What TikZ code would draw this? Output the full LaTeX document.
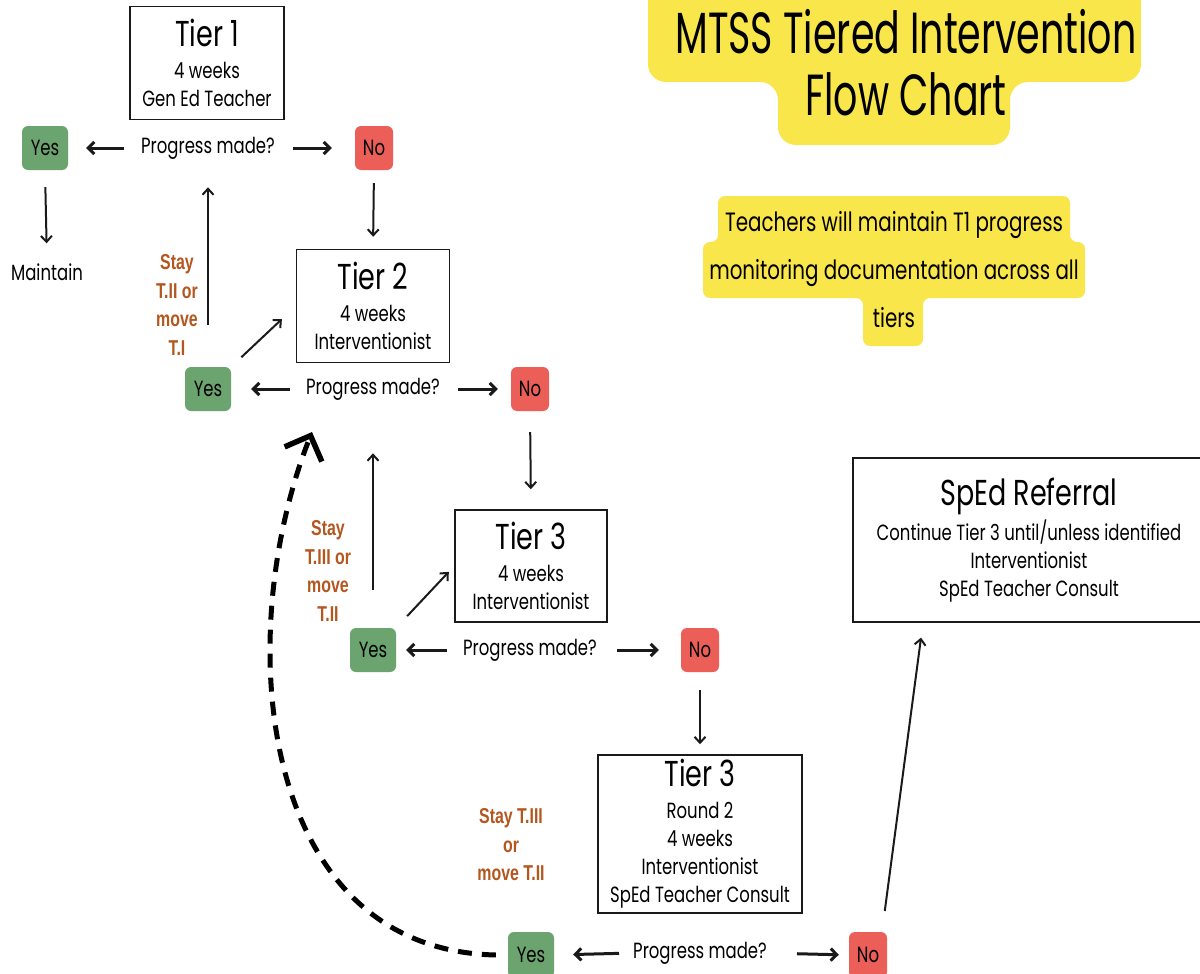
\documentclass[tikz,border=0pt]{standalone}
\usepackage{fontspec}
\setmainfont{Poppins}[FakeStretch=0.75]
\newfontfamily\headfont{Poppins}[FakeStretch=0.655]
\newfontfamily\notefont{Liberation Sans}[FakeStretch=0.74]
\usetikzlibrary{arrows.meta,positioning}
\definecolor{MtssGreen}{HTML}{6BA46E}
\definecolor{MtssRed}{HTML}{EC5F59}
\definecolor{MtssYellow}{HTML}{F9E64B}
\definecolor{MtssRust}{HTML}{B4571F}
\definecolor{MtssInk}{HTML}{1A1A1A}
\newcommand{\tiername}[1]{{\fontsize{36}{36}\selectfont #1}\\[4pt]}
\tikzset{
  tierbox/.style={draw=MtssInk,line width=1.5pt,align=center,inner sep=3pt,font=\fontsize{22}{28}\selectfont},
  yesbox/.style={fill=MtssGreen,rounded corners=6pt,minimum width=46pt,minimum height=44pt,inner sep=0pt,font=\fontsize{22}{22}\selectfont},
  nobox/.style={fill=MtssRed,rounded corners=6pt,minimum width=38pt,minimum height=44pt,inner sep=0pt,font=\fontsize{22}{22}\selectfont},
  askbox/.style={inner sep=0pt,font=\fontsize{22}{22}\selectfont},
  movenote/.style={align=center,text=MtssRust,font=\notefont\bfseries\fontsize{21.5}{28.5}\selectfont},
  flowarrow/.style={-{Straight Barb[length=6pt,width=12pt]},line width=3pt,draw=MtssInk},
  thinarrow/.style={-{Straight Barb[length=6pt,width=11pt]},line width=2pt,draw=MtssInk},
  backarrow/.style={-{Straight Barb[length=20pt,width=40pt,line width=5.5pt]},line width=5pt,dash pattern=on 14pt off 10pt,draw=black},
  yellowtag/.style={fill=MtssYellow}
}

\begin{document}
\begin{tikzpicture}[x=1pt,y=-1pt]
\useasboundingbox[fill=white] (0,0) rectangle (1200,974);

% Title and reminder tags
\path[yellowtag,rounded corners=18pt] (648,-30) -- (1141,-30) -- (1141,82) -- (1010,82) -- (1010,145)
  -- (778,145) -- (778,82) -- (648,82) -- cycle;
\node[align=center,font=\headfont\fontsize{58}{62}\selectfont] (title) at (906,63) {MTSS Tiered Intervention\\Flow Chart};
\path[yellowtag,rounded corners=7pt] (718,196) -- (1070,196) -- (1070,242) -- (1085,242) -- (1085,298)
  -- (923,298) -- (923,346) -- (863,346) -- (863,298) -- (703,298) -- (703,242) -- (718,242) -- cycle;
\node[align=center,font=\fontsize{26.5}{48}\selectfont] (memo) at (894,270) {Teachers will maintain T1 progress\\monitoring documentation across all\\tiers};

% Tier 1
\node[tierbox,minimum width=154pt,minimum height=113pt] (t1) at (207,63) {\tiername{Tier 1}4 weeks\\Gen Ed Teacher};
\node[yesbox] (y1) at (45,148) {Yes};
\node[askbox] (q1) at (208,148) {Progress made?};
\node[nobox] (n1) at (374,148) {No};
\node[askbox] (keep) at (47,272) {Maintain};
\draw[flowarrow,shorten <=17pt,shorten >=18pt] (q1.west) -- (y1.east);
\draw[flowarrow,shorten <=18pt,shorten >=23pt] (q1.east) -- (n1.west);
\draw[thinarrow,shorten <=17pt,shorten >=20pt] (y1.south) -- (keep.north);

% Tier 2
\node[tierbox,minimum width=153pt,minimum height=113pt] (t2) at (373,306) {\tiername{Tier 2}4 weeks\\Interventionist};
\node[yesbox] (y2) at (208,389) {Yes};
\node[askbox] (q2) at (373,389) {Progress made?};
\node[nobox] (n2) at (530,389) {No};
\draw[thinarrow,shorten <=13pt,shorten >=12pt] (n1.south) -- (t2.north);
\draw[flowarrow,shorten <=16pt,shorten >=20pt] (q2.west) -- (y2.east);
\draw[flowarrow,shorten <=18pt,shorten >=13pt] (q2.east) -- (n2.west);
\draw[thinarrow,shorten <=42pt,shorten >=28pt] (y2.north) -- (q1.south);
\draw[thinarrow,shorten <=14pt,shorten >=19pt] (y2.north east) -- (t2.west);
\node[movenote] (back1) at (177,305) {Stay\\T.II or\\move\\T.I};

% Tier 3
\node[tierbox,minimum width=152pt,minimum height=112pt] (t3) at (531,566) {\tiername{Tier 3}4 weeks\\Interventionist};
\node[yesbox] (y3) at (373,650) {Yes};
\node[askbox] (q3) at (530,650) {Progress made?};
\node[nobox] (n3) at (700,650) {No};
\draw[thinarrow,shorten <=21pt,shorten >=20pt] (n2.south) -- (t3.north);
\draw[flowarrow,shorten <=16pt,shorten >=10pt] (q3.west) -- (y3.east);
\draw[flowarrow,shorten <=20pt,shorten >=22pt] (q3.east) -- (n3.west);
\draw[thinarrow,shorten <=38pt,shorten >=53pt] (y3.north) -- (q2.south);
\draw[thinarrow,shorten <=16pt,shorten >=8pt] (y3.north east) -- (t3.west);
\node[movenote] (back2) at (328,571) {Stay\\T.III or\\move\\T.II};

% Tier 3, second round
\node[tierbox,minimum width=204pt,minimum height=158pt] (t4) at (700,834) {\tiername{Tier 3}Round 2\\4 weeks\\Interventionist\\SpEd Teacher Consult};
\node[yesbox,minimum height=46pt] (y4) at (531,955) {Yes};
\node[askbox] (q4) at (700,953) {Progress made?};
\node[nobox,minimum height=46pt] (n4) at (868,955) {No};
\draw[thinarrow,shorten <=18pt,shorten >=10pt] (n3.south) -- (t4.north);
\draw[flowarrow,shorten <=14pt,shorten >=19pt] (q4.west) -- (y4.east);
\draw[flowarrow,shorten <=30pt,shorten >=10pt] (q4.east) -- (n4.west);
\node[movenote] (back3) at (511,845) {Stay T.III\\or\\move T.II};
\draw[backarrow] ([xshift=-12pt]y4.west) .. controls (260,950) and (230,640) .. (312,432);

% Referral
\node[tierbox,minimum width=352pt,minimum height=164pt] (sped) at (1029,540) {\tiername{SpEd Referral}Continue Tier 3 until/unless identified\\Interventionist\\SpEd Teacher Consult};
\draw[thinarrow,shorten <=21pt,shorten >=15pt] ([xshift=14pt]n4.north) -- ([xshift=-106pt]sped.south);
\end{tikzpicture}
\end{document}
